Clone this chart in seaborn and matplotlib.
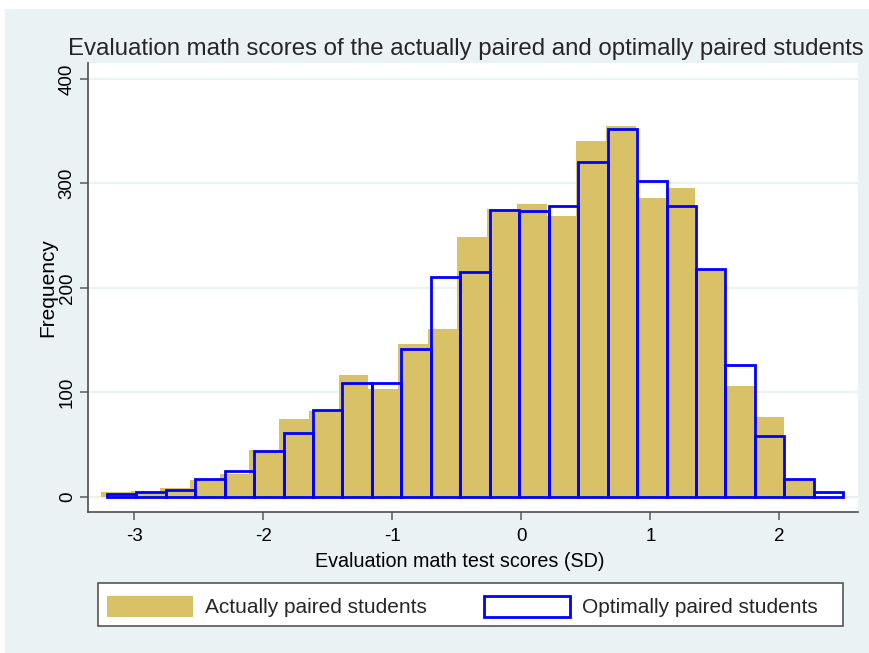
import numpy as np
import pandas as pd
import matplotlib
matplotlib.use("Agg")
import matplotlib.pyplot as plt
from matplotlib.patches import Patch, Rectangle
import seaborn as sns

# Histogram bins (SD units) and counts
GOLD_START = -3.258
GOLD_WIDTH = 0.2303
GOLD_COUNTS = [4, 5, 8, 16, 22, 45, 74, 82, 117, 103, 146, 161,
               249, 276, 280, 269, 341, 355, 286, 296, 218, 106, 76, 17]

BLUE_START = -3.212
BLUE_WIDTH = 0.2283
BLUE_COUNTS = [3, 4, 6, 17, 25, 44, 61, 83, 109, 109, 141, 210, 215,
               275, 274, 278, 321, 352, 302, 278, 218, 126, 58, 17, 4]

X_TICKS = [-3, -2, -1, 0, 1, 2]
Y_TICKS = [0, 100, 200, 300, 400]
LABELS = ["Actually paired students", "Optimally paired students"]

TITLE = "Evaluation math scores of the actually paired and optimally paired students"
XLABEL = "Evaluation math test scores (SD)"
YLABEL = "Frequency"

GOLD = "#D8C166"
BLUE = "#0000FF"
BG = "#EAF2F3"

gold_edges = GOLD_START + GOLD_WIDTH * np.arange(len(GOLD_COUNTS) + 1)
blue_edges = BLUE_START + BLUE_WIDTH * np.arange(len(BLUE_COUNTS) + 1)
gold_df = pd.DataFrame({"score": (gold_edges[:-1] + gold_edges[1:]) / 2,
                        "count": GOLD_COUNTS})
blue_df = pd.DataFrame({"score": (blue_edges[:-1] + blue_edges[1:]) / 2,
                        "count": BLUE_COUNTS})

sns.set_theme(style="white")
plt.rcParams["font.family"] = ["Liberation Sans", "DejaVu Sans"]
plt.rcParams["axes.unicode_minus"] = False

fig = plt.figure(figsize=(8.7, 6.53), dpi=100)
fig.patch.set_facecolor("white")
# Stata-style light graph region, with a thin white border top/left
fig.patches.append(Rectangle((5 / 870, 0), 1, 1 - 9 / 653, transform=fig.transFigure,
                             facecolor=BG, edgecolor="none", zorder=-1))

ax = fig.add_axes([88 / 870, 1 - 512 / 653, 770 / 870, 449 / 653])
ax.set_facecolor("white")

sns.histplot(data=gold_df, x="score", weights="count", bins=list(gold_edges), ax=ax,
             color=GOLD, alpha=1, linewidth=0, element="bars", fill=True)
sns.histplot(data=blue_df, x="score", weights="count", bins=list(blue_edges), ax=ax,
             color=BLUE, fill=False, linewidth=2, element="bars")

ax.set_xlim(-3.357, 2.609)
ax.set_ylim(-14.7, 415.4)
ax.set_xticks(X_TICKS)
ax.set_yticks(Y_TICKS)
ax.set_yticklabels([str(v) for v in Y_TICKS], rotation=90, va="center")

ax.yaxis.grid(True, color=BG, linewidth=1.5)
ax.xaxis.grid(False)
ax.set_axisbelow(True)

for side in ["top", "right"]:
    ax.spines[side].set_visible(False)
for side in ["left", "bottom"]:
    ax.spines[side].set_color("#4d4d4d")
    ax.spines[side].set_linewidth(1.2)

ax.tick_params(axis="both", which="major", direction="out", length=5.8, width=1.2,
               color="#666666", labelsize=13.5, labelcolor="black",
               left=True, bottom=True)
ax.tick_params(axis="x", pad=6)
ax.tick_params(axis="y", pad=3)

ax.set_xlabel(XLABEL, fontsize=14.2, color="black")
ax.xaxis.set_label_coords((460 - 88) / 770, (512 - 552) / 449)
ax.set_ylabel(YLABEL, fontsize=15, color="black")
ax.yaxis.set_label_coords((57 - 88) / 770, (512 - 288) / 449)

fig.text(68 / 870, 1 - 55 / 653, TITLE, fontsize=17.3, ha="left", va="baseline")

# legend frame drawn separately so the right margin can be wider than the left
fig.patches.append(Rectangle((98 / 870, 1 - 626 / 653), 745 / 870, 43 / 653,
                             transform=fig.transFigure, facecolor="white",
                             edgecolor="#555555", linewidth=1.2, zorder=1))
handles = [Patch(facecolor=GOLD, edgecolor="none"),
           Patch(facecolor="white", edgecolor=BLUE, linewidth=2)]
leg = fig.legend(handles, LABELS, loc="lower left",
                 bbox_to_anchor=(98 / 870, 1 - 626 / 653, 729 / 870, 43 / 653),
                 mode="expand", ncol=2, fontsize=15, frameon=False,
                 borderpad=0.42, handlelength=4.13, handleheight=1.15,
                 handletextpad=0.6, borderaxespad=0)

fig.savefig("out.png", dpi=100, facecolor=fig.get_facecolor())
